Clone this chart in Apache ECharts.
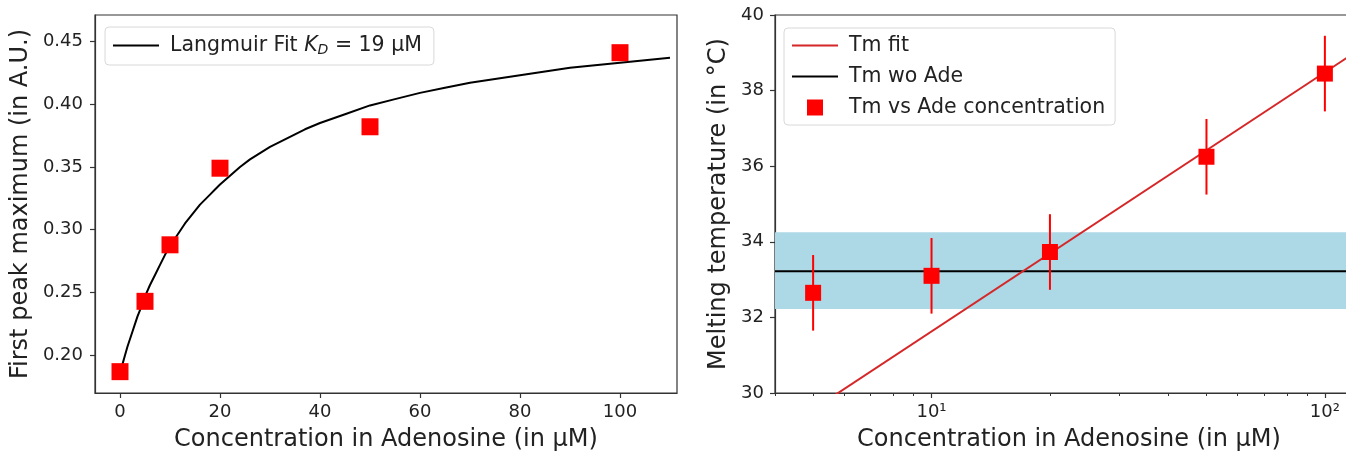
<!DOCTYPE html>
<html>
<head>
<meta charset="utf-8">
<script src="https://cdn.jsdelivr.net/npm/echarts@6/dist/echarts.min.js"></script>
<style>
html,body{margin:0;padding:0;background:#fff}
#main{width:1346px;height:452px}
</style>
</head>
<body>
<div id="main"></div>
<script>
// left panel: first peak maximum vs adenosine
let conc = [0, 5, 10, 20, 50, 100]
let peak = [0.187, 0.243, 0.288, 0.349, 0.382, 0.441]
// Langmuir fit curve
let fitX = [0, 0.5, 1, 1.5, 2, 2.5, 3, 3.5, 4, 5, 6, 7, 8, 9, 10, 11, 12, 13, 14, 15, 16, 17, 18, 19, 20,
    22, 24, 26, 28, 30, 32, 35, 37, 40, 45, 50, 55, 60, 65, 70, 75, 80, 85, 90, 95, 100, 105, 110]
let fitY = [0.185, 0.193, 0.200, 0.207, 0.213, 0.219, 0.225, 0.231, 0.236, 0.247, 0.256, 0.264, 0.272, 0.280, 0.287, 0.293, 0.299, 0.305, 0.310, 0.315, 0.320, 0.324, 0.328, 0.332, 0.336,
    0.343, 0.350, 0.356, 0.361, 0.366, 0.370, 0.376, 0.380, 0.385, 0.392, 0.399, 0.404, 0.409, 0.413, 0.417, 0.420, 0.423, 0.426, 0.429, 0.431, 0.433, 0.435, 0.437]
let leftXTicks = [0, 20, 40, 60, 80, 100]
let leftYTicks = [0.20, 0.25, 0.30, 0.35, 0.40, 0.45]

// right panel: melting temperature vs adenosine (log x)
let tmConc = [5, 10, 20, 50, 100]
let tm = [32.65, 33.1, 33.73, 36.25, 38.45]
let tmErr = [1.0, 1.0, 1.0, 1.0, 1.0]
let tmFitX = [4, 125]
let tmFitY = [28.9, 39.15]
let tmWoAde = 33.22
let tmWoAdeBand = [32.22, 34.25]
let logMajor = [10, 100]
let logMinor = [4, 5, 6, 7, 8, 9, 20, 30, 40, 50, 60, 70, 80, 90]

let font = 'DejaVu Sans'
let txt = '#222'
let lineIcon = 'path://M0,0H46V2H0Z'
let squareIcon = 'path://M0,0H10V10H0Z'

var myChart = echarts.init(document.getElementById('main'))

var axisCommon = {
    axisLine: {show: true, onZero: false, lineStyle: {color: '#333', width: 1.2}},
    axisTick: {show: true, length: 5, lineStyle: {color: '#333', width: 1.2}},
    axisLabel: {color: txt, fontFamily: font, fontSize: 18, margin: 10},
    splitLine: {show: false},
    nameTextStyle: {color: txt, fontFamily: font, fontSize: 24}
}

var option = {
    animation: false,
    textStyle: {fontFamily: font},
    grid: [
        {left: 95, top: 15, width: 582, bottom: 59, show: true, borderColor: '#333', borderWidth: 1.2, outerBoundsMode: 'none', containLabel: false},
        {left: 775, top: 15, width: 588, bottom: 59, show: true, borderColor: '#333', borderWidth: 1.2, outerBoundsMode: 'none', containLabel: false}
    ],
    xAxis: [
        echarts.util.merge({
            type: 'value', gridIndex: 0, min: -5, max: 111.4,
            name: 'Concentration in Adenosine (in μM)', nameLocation: 'middle', nameGap: 35,
            axisLabel: {customValues: leftXTicks},
            axisTick: {customValues: leftXTicks}
        }, axisCommon),
        echarts.util.merge({
            type: 'log', logBase: 10, gridIndex: 1, min: 4, max: 125, position: 'bottom',
            name: 'Concentration in Adenosine (in μM)', nameLocation: 'middle', nameGap: 35,
            axisLabel: {customValues: logMajor, formatter: function (v) { return Math.round(v) === 10 ? '10¹' : '10²' }},
            axisTick: {customValues: logMajor}
        }, axisCommon),
        {
            type: 'log', logBase: 10, gridIndex: 1, min: 4, max: 125, position: 'bottom', offset: 0,
            axisLine: {show: false, onZero: false},
            axisTick: {show: true, length: 3, customValues: logMinor, lineStyle: {color: '#333', width: 1}},
            axisLabel: {show: false},
            splitLine: {show: false}
        }
    ],
    yAxis: [
        echarts.util.merge({
            type: 'value', gridIndex: 0, min: 0.17, max: 0.471,
            name: 'First peak maximum (in A.U.)', nameLocation: 'middle', nameGap: 62,
            axisLabel: {customValues: leftYTicks, margin: 12, formatter: function (v) { return v.toFixed(2) }},
            axisTick: {customValues: leftYTicks}
        }, axisCommon),
        echarts.util.merge({
            type: 'value', gridIndex: 1, min: 30, max: 40, interval: 2,
            name: 'Melting temperature (in °C)', nameLocation: 'middle', nameGap: 44,
            axisLabel: {margin: 11}
        }, axisCommon)
    ],
    legend: [
        {
            left: 105, top: 27, padding: [8, 12, 8, 8],
            data: [{name: 'Langmuir Fit', icon: lineIcon}],
            itemWidth: 46, itemHeight: 14, symbolKeepAspect: true,
            borderColor: '#d8d8d8', borderWidth: 1, borderRadius: 4,
            formatter: function () { return 'Langmuir Fit {i|K}{s|D} = 19 μM' },
            textStyle: {color: txt, fontFamily: font, fontSize: 20.5, padding: [0, 0, 0, 6],
                rich: {i: {fontStyle: 'italic', fontSize: 20.5, fontFamily: font, color: txt},
                       s: {fontStyle: 'italic', fontSize: 14, fontFamily: font, color: txt, padding: [9, 0, 0, 0]}}}
        },
        {
            left: 784, top: 28, orient: 'vertical', padding: [7, 10, 7, 8],
            data: [{name: 'Tm fit', icon: lineIcon}, {name: 'Tm wo Ade', icon: lineIcon},
                   {name: 'Tm vs Ade concentration', icon: squareIcon}],
            itemWidth: 46, itemHeight: 16, itemGap: 10,
            symbolKeepAspect: true,
            borderColor: '#d8d8d8', borderWidth: 1, borderRadius: 4,
            textStyle: {color: txt, fontFamily: font, fontSize: 20.5, padding: [0, 0, 0, 6]}
        }
    ],
    series: [
        {
            name: 'Langmuir Fit', type: 'line', xAxisIndex: 0, yAxisIndex: 0,
            data: fitX.map(function (x, i) { return [x, fitY[i]] }),
            smooth: false, symbol: 'none',
            lineStyle: {color: '#000', width: 2}, itemStyle: {color: '#000'}, z: 2
        },
        {
            name: 'peak', type: 'scatter', xAxisIndex: 0, yAxisIndex: 0,
            data: conc.map(function (x, i) { return [x, peak[i]] }),
            symbol: 'rect', symbolSize: 17, itemStyle: {color: '#ff0000', opacity: 1}, z: 3
        },
        {
            name: 'Tm wo Ade', type: 'line', xAxisIndex: 1, yAxisIndex: 1,
            data: [[tmFitX[0], tmWoAde], [tmFitX[1], tmWoAde]],
            symbol: 'none', lineStyle: {color: '#000', width: 2}, itemStyle: {color: '#000'}, z: 2,
            markArea: {
                silent: true,
                itemStyle: {color: '#add8e6', opacity: 1},
                data: [[{yAxis: tmWoAdeBand[0]}, {yAxis: tmWoAdeBand[1]}]],
                z: 1
            }
        },
        {
            name: 'Tm fit', type: 'line', xAxisIndex: 1, yAxisIndex: 1,
            data: tmFitX.map(function (x, i) { return [x, tmFitY[i]] }),
            symbol: 'none', lineStyle: {color: '#d62728', width: 2}, itemStyle: {color: '#d62728'}, z: 3
        },
        {
            name: 'err', type: 'custom', xAxisIndex: 1, yAxisIndex: 1,
            data: tmConc.map(function (x, i) { return [x, tm[i] - tmErr[i], tm[i] + tmErr[i]] }),
            renderItem: function (params, api) {
                var p1 = api.coord([api.value(0), api.value(1)])
                var p2 = api.coord([api.value(0), api.value(2)])
                return {type: 'line', shape: {x1: p1[0], y1: p1[1], x2: p2[0], y2: p2[1]},
                    style: {stroke: '#ff0000', lineWidth: 2}}
            },
            z: 4
        },
        {
            name: 'Tm vs Ade concentration', type: 'scatter', xAxisIndex: 1, yAxisIndex: 1,
            data: tmConc.map(function (x, i) { return [x, tm[i]] }),
            symbol: 'rect', symbolSize: 16, itemStyle: {color: '#ff0000', opacity: 1}, z: 5
        }
    ]
}

myChart.setOption(option)
</script>
</body>
</html>
